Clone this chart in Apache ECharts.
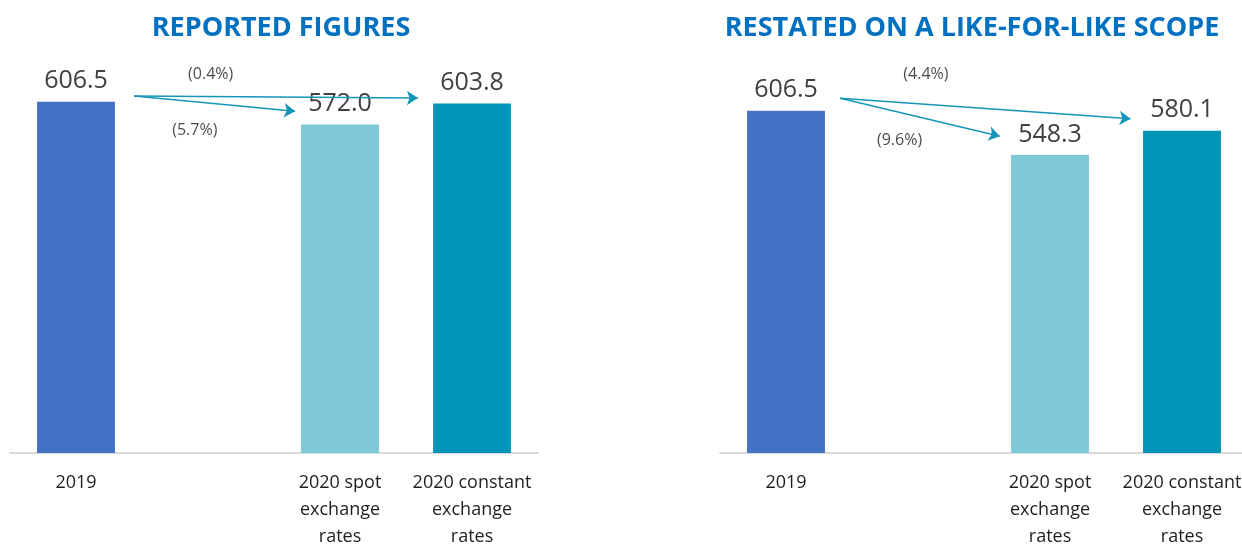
<!DOCTYPE html>
<html>
<head>
<meta charset="utf-8">
<title>Reported vs like-for-like</title>
<script src="https://cdn.jsdelivr.net/npm/echarts@6/dist/echarts.min.js"></script>
<style>
	html, body { margin: 0; padding: 0; background: #fff; }
	#chart { width: 1242px; height: 544px; }
</style>
</head>
<body>
<div id="chart"></div>
<script>
// categories (2nd slot is an empty gap)
var categories = ['2019', '', '2020 spot\nexchange\nrates', '2020 constant\nexchange\nrates'];
var barColors = ['#4472c4', '#7fc8d8', '#0095b6'];

// values
var reportedValues = [606.5, '-', 572.0, 603.8];
var restatedValues = [606.5, '-', 548.3, 580.1];

// arrows: [x position in category units, value]
var reportedArrowStart = [0.44, 615];
var reportedArrowEnds = [[1.66, 592], [2.59, 612]];
var restatedArrowStart = [0.41, 623];
var restatedArrowEnds = [[1.62, 573], [2.61, 596]];

// change labels: [x, value, text]
var reportedChanges = [[1.02, 648, '(0.4%)'], [0.90, 563, '(5.7%)']];
var restatedChanges = [[1.06, 655, '(4.4%)'], [0.86, 567, '(9.6%)']];

var titles = ['REPORTED FIGURES', 'RESTATED ON A LIKE-FOR-LIKE SCOPE'];

var chart = echarts.init(document.getElementById('chart'));

var FONT = '"Open Sans", sans-serif';

//
function barSeries(values, idx) {
	return {
		type: 'bar',
		xAxisIndex: idx,
		yAxisIndex: idx,
		data: values,
		barWidth: '59%',
		itemStyle: {
			color: function (p) {
				return p.dataIndex == 0 ? barColors[0] : (p.dataIndex == 2 ? barColors[1] : barColors[2]);
			}
		},
		label: {
			show: true,
			position: 'top',
			distance: 8,
			color: '#404040',
			fontSize: 25,
			fontFamily: FONT,
			formatter: function (p) { return Number(p.value).toFixed(1); }
		}
	};
}

//
function arrowSeries(start, ends, idx) {
	return {
		type: 'lines',
		coordinateSystem: 'cartesian2d',
		xAxisIndex: idx + 2,
		yAxisIndex: idx,
		symbol: ['none', 'arrow'],
		symbolSize: 11,
		lineStyle: { color: '#1596b8', width: 1.5, opacity: 1, curveness: 0 },
		data: ends.map(function (e) { return { coords: [start, e] }; }),
		z: 5
	};
}

//
function changeSeries(items, idx) {
	return {
		type: 'scatter',
		xAxisIndex: idx + 2,
		yAxisIndex: idx,
		symbolSize: 0,
		data: items.map(function (d) { return { value: [d[0], d[1]], name: d[2] }; }),
		label: {
			show: true,
			position: 'inside',
			color: '#1a1a1a',
			fontSize: 16,
			fontFamily: FONT,
			formatter: function (p) { return p.name; }
		}
	};
}

var grids = [
	{ left: 10, width: 528, top: 40, bottom: 91, outerBoundsMode: 'none', containLabel: false },
	{ left: 720, width: 528, top: 40, bottom: 91, outerBoundsMode: 'none', containLabel: false }
];

var catAxis = function (idx) {
	return {
		type: 'category',
		gridIndex: idx,
		data: categories,
		axisTick: { show: false },
		axisLine: { lineStyle: { color: '#d9d9d9', width: 2 } },
		axisLabel: {
			interval: 0,
			margin: 16,
			color: '#1f1f1f',
			fontSize: 18,
			lineHeight: 27,
			fontFamily: FONT
		}
	};
};

var valXAxis = function (idx) {
	return { type: 'value', gridIndex: idx, min: -0.5, max: 3.5, show: false };
};

var titleStyle = { color: '#0070c0', fontSize: 27, fontWeight: 'bold', fontFamily: FONT };

chart.setOption({
	animation: false,
	title: [
		{ text: titles[0], left: 276, top: 10, textAlign: 'center', textStyle: titleStyle },
		{ text: titles[1], left: 967, top: 10, textAlign: 'center', textStyle: titleStyle }
	],
	grid: grids,
	xAxis: [catAxis(0), catAxis(1), valXAxis(0), valXAxis(1)],
	yAxis: [
		{ type: 'value', gridIndex: 0, min: 74, max: 700, show: false },
		{ type: 'value', gridIndex: 1, min: 155, max: 700, show: false }
	],
	series: [
		barSeries(reportedValues, 0),
		barSeries(restatedValues, 1),
		arrowSeries(reportedArrowStart, reportedArrowEnds, 0),
		arrowSeries(restatedArrowStart, restatedArrowEnds, 1),
		changeSeries(reportedChanges, 0),
		changeSeries(restatedChanges, 1)
	]
});
</script>
</body>
</html>
